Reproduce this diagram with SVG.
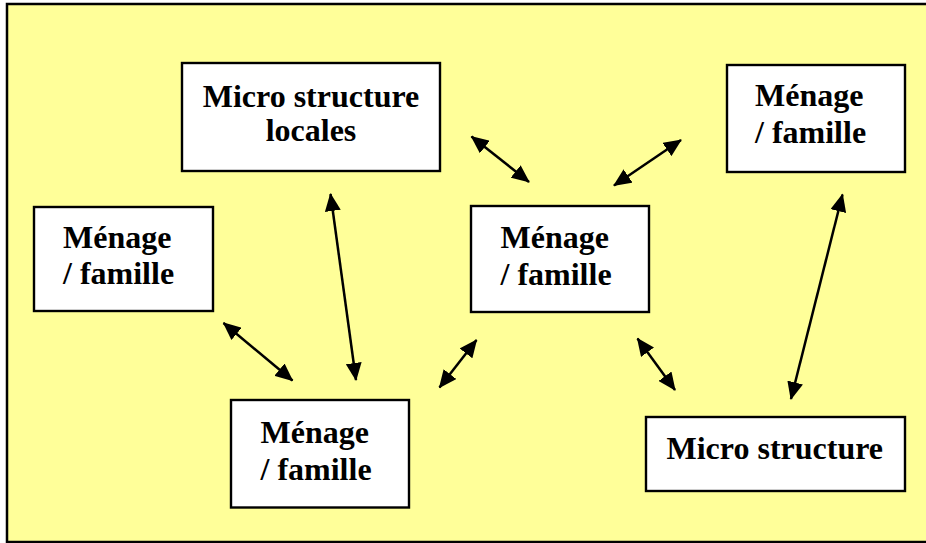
<svg xmlns="http://www.w3.org/2000/svg" width="926" height="543" viewBox="0 0 926 543">
<style>
.box{fill:#fff;stroke:#000;stroke-width:2.4}
.t{font-family:"Liberation Serif","Times New Roman","DejaVu Serif",serif;font-weight:bold;font-size:32px;fill:#000}
.c{stroke:#000;stroke-width:2.5;fill:none;marker-start:url(#ah);marker-end:url(#ah)}
</style>
<defs>
<marker id="ah" markerUnits="userSpaceOnUse" markerWidth="18" markerHeight="16" viewBox="0 0 18 16" refX="17" refY="8" orient="auto-start-reverse">
<path d="M0,0 L18,8 L0,16 z" fill="#000"/>
</marker>
</defs>
<rect x="7" y="4" width="930" height="538" fill="#FFFF99" stroke="#000" stroke-width="2.5"/>
<g id="n-micro-locales">
<rect class="box" x="182" y="63" width="258" height="108"/>
<text class="t" x="311" y="106.5" text-anchor="middle">Micro structure</text>
<text class="t" x="311" y="141" text-anchor="middle">locales</text>
</g>
<g id="n-menage-topright">
<rect class="box" x="727" y="65" width="178" height="107"/>
<text class="t" x="755" y="106">Ménage</text>
<text class="t" x="755" y="143">/ famille</text>
</g>
<g id="n-menage-left">
<rect class="box" x="34" y="207" width="179" height="104"/>
<text class="t" x="63" y="247.5">Ménage</text>
<text class="t" x="63" y="284">/ famille</text>
</g>
<g id="n-menage-center">
<rect class="box" x="471" y="206" width="178" height="106"/>
<text class="t" x="500.5" y="248">Ménage</text>
<text class="t" x="500.5" y="285">/ famille</text>
</g>
<g id="n-menage-bottom">
<rect class="box" x="231" y="400" width="178" height="107.5"/>
<text class="t" x="260.5" y="442.5">Ménage</text>
<text class="t" x="260.5" y="480">/ famille</text>
</g>
<g id="n-micro">
<rect class="box" x="646" y="417" width="259" height="74"/>
<text class="t" x="666.5" y="459">Micro structure</text>
</g>
<g id="connectors">
<line class="c" x1="330.5" y1="194" x2="356" y2="380"/>
<line class="c" x1="223.5" y1="323" x2="292.5" y2="380.5"/>
<line class="c" x1="471.5" y1="136.5" x2="529" y2="182"/>
<line class="c" x1="681" y1="140" x2="614" y2="185.5"/>
<line class="c" x1="439.5" y1="387.5" x2="476.5" y2="340"/>
<line class="c" x1="637.5" y1="338.5" x2="675" y2="390"/>
<line class="c" x1="842.5" y1="194.5" x2="791" y2="399"/>
</g>
</svg>
